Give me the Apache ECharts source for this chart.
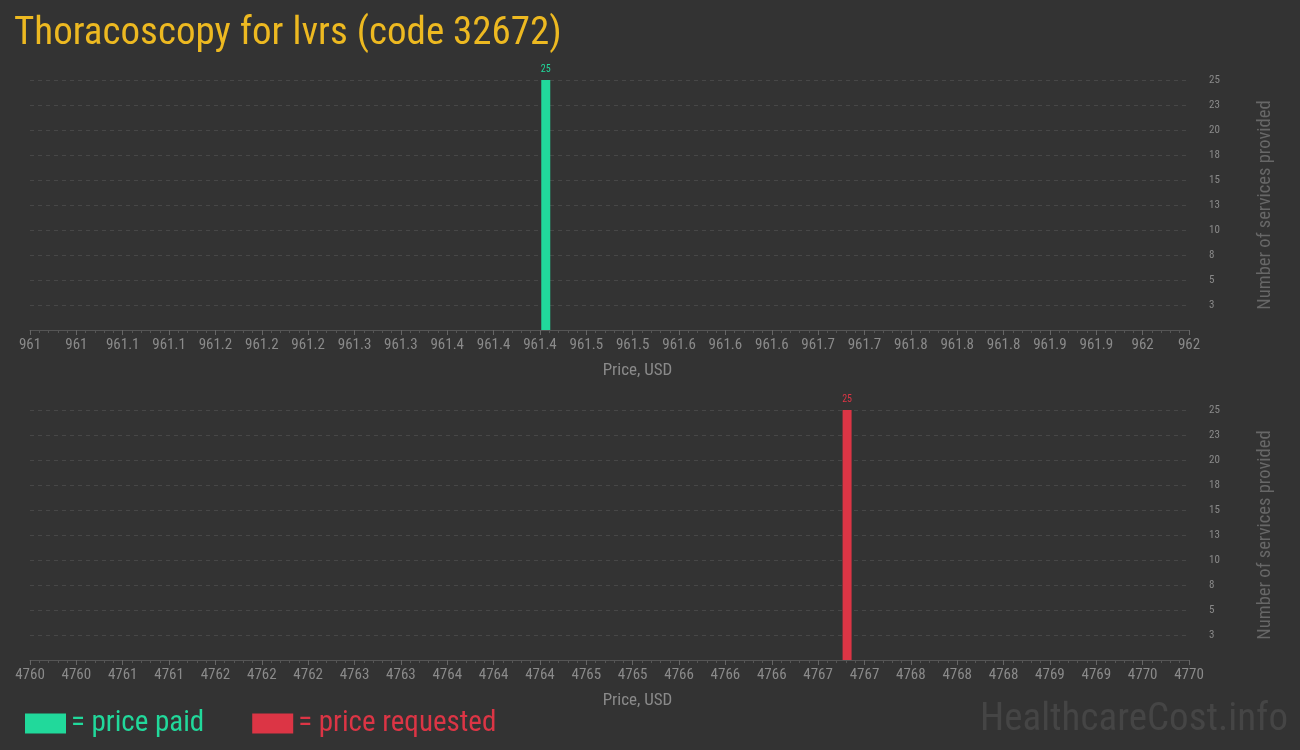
<!DOCTYPE html>
<html>
<head>
<meta charset="utf-8">
<script src="https://cdn.jsdelivr.net/npm/echarts@6/dist/echarts.min.js"></script>
<style>
html,body{margin:0;padding:0;background:#333333;}
#chart{width:1300px;height:750px;}
</style>
</head>
<body>
<div id="chart"></div>
<script>
var titleText = 'Thoracoscopy for lvrs (code 32672)';
var paidName = '= price paid';
var requestedName = '= price requested';
var paidData = [[961.445, 25]];
var requestedData = [[4767.05, 25]];
var paidAxis = {min: 961, max: 962, interval: 0.04, decimals: 1};
var requestedAxis = {min: 4760, max: 4770, interval: 0.4, decimals: 0};
var countAxis = {min: 0, max: 25, interval: 2.5};
var xAxisName = 'Price, USD';
var yAxisName = 'Number of services provided';
var watermark = 'HealthcareCost.info';

var FONT = "'Roboto Condensed', 'Liberation Sans Narrow', 'DejaVu Sans Condensed', Roboto, sans-serif";
var GREEN = '#21d99b';
var RED = '#dc3545';
var LABEL = '#8a8a8a';

function xAxisCfg(ax, idx) {
  return {
    type: 'value', gridIndex: idx, min: ax.min, max: ax.max, interval: ax.interval,
    name: xAxisName, nameLocation: 'middle', nameGap: 32,
    nameTextStyle: {color: LABEL, fontSize: 17, fontFamily: FONT, padding: [0, 0, 0, 56]},
    axisLine: {show: true, lineStyle: {color: '#555555'}},
    axisTick: {show: true, length: 5, lineStyle: {color: '#666666'}},
    minorTick: {show: true, splitNumber: 5, length: 3, lineStyle: {color: '#555555'}},
    splitLine: {show: false},
    axisLabel: {color: LABEL, fontSize: 15, fontFamily: FONT, margin: 8,
      formatter: function (v) { return String(+(+v).toFixed(ax.decimals)); }}
  };
}
function yAxisCfg(idx) {
  return {
    type: 'value', gridIndex: idx, position: 'right', min: countAxis.min, max: countAxis.max, interval: countAxis.interval,
    name: yAxisName, nameLocation: 'middle', nameGap: 67, nameRotate: 90,
    nameTextStyle: {color: '#676767', fontSize: 18.5, fontFamily: FONT},
    axisLine: {show: false}, axisTick: {show: false},
    splitLine: {show: true, lineStyle: {color: '#474747', type: [4, 4]}},
    axisLabel: {color: LABEL, fontSize: 11, fontFamily: FONT, margin: 20,
      formatter: function (v) { return v === 0 ? '' : String(Math.round(v)); }}
  };
}
function barSeries(name, data, color, idx) {
  return {
    name: name, type: 'bar', xAxisIndex: idx, yAxisIndex: idx, data: data, barWidth: 9,
    itemStyle: {color: color},
    label: {show: true, position: 'top', color: color, fontSize: 10, fontFamily: FONT, distance: 6},
    emphasis: {disabled: true}
  };
}

var chart = echarts.init(document.getElementById('chart'));
chart.setOption({
  backgroundColor: '#333333',
  animation: false,
  title: {text: titleText, left: 9, top: 10,
    textStyle: {color: '#edb921', fontSize: 39, fontWeight: 'normal', fontFamily: FONT}},
  legend: {
    left: 20, top: 704, itemWidth: 41, itemHeight: 20, itemGap: 48, icon: 'rect',
    textStyle: {fontSize: 29, fontFamily: FONT},
    data: [
      {name: paidName, textStyle: {color: GREEN}},
      {name: requestedName, textStyle: {color: RED}}
    ],
    selectedMode: false
  },
  grid: [
    {left: 30, right: 111, top: 80, height: 250},
    {left: 30, right: 111, top: 410, height: 250}
  ],
  xAxis: [xAxisCfg(paidAxis, 0), xAxisCfg(requestedAxis, 1)],
  yAxis: [yAxisCfg(0), yAxisCfg(1)],
  series: [
    barSeries(paidName, paidData, GREEN, 0),
    barSeries(requestedName, requestedData, RED, 1)
  ],
  graphic: [{
    type: 'text', right: 12, top: 701,
    style: {text: watermark, fill: '#454545', fontSize: 39, fontFamily: FONT}
  }]
});
</script>
</body>
</html>
